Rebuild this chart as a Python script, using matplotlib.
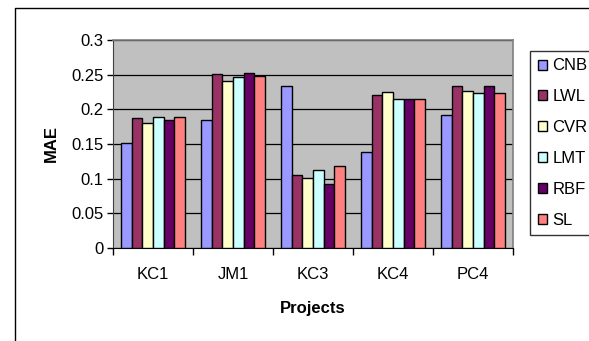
import numpy as np
import matplotlib
matplotlib.use("Agg")
import matplotlib.pyplot as plt
from matplotlib.lines import Line2D

plt.rcParams['font.family'] = ['Liberation Sans', 'DejaVu Sans']

projects = ["KC1", "JM1", "KC3", "KC4", "PC4"]
methods = ["CNB", "LWL", "CVR", "LMT", "RBF", "SL"]
cnb = [0.151, 0.185, 0.234, 0.139, 0.192]
lwl = [0.187, 0.251, 0.106, 0.220, 0.234]
cvr = [0.180, 0.241, 0.101, 0.225, 0.227]
lmt = [0.189, 0.246, 0.113, 0.215, 0.224]
rbf = [0.184, 0.253, 0.092, 0.215, 0.234]
sl = [0.189, 0.248, 0.118, 0.215, 0.224]
series = [cnb, lwl, cvr, lmt, rbf, sl]
colors = ["#9999FF", "#993366", "#FFFFCC", "#CCFFFF", "#660066", "#FF8080"]
yticks = [0, 0.05, 0.1, 0.15, 0.2, 0.25, 0.3]
ytick_labels = ["0", "0.05", "0.1", "0.15", "0.2", "0.25", "0.3"]

W, H = 589, 341
FS = 12
fig = plt.figure(figsize=(W / 100, H / 100), dpi=100)

# outer chart frame (left and top edges visible)
fig.add_artist(Line2D([15 / W, 15 / W, 1.0], [0.0, 1 - 8 / H, 1 - 8 / H],
                      transform=fig.transFigure, color="black", lw=1.0))

left, right, top, bottom = 113, 513, 40, 248
ax = fig.add_axes([left / W, 1 - bottom / H, (right - left) / W, (bottom - top) / H])
ax.set_facecolor("#C0C0C0")

n = len(methods)
group = 0.8
bw = group / n
x = np.arange(len(projects))
for i, (vals, c, name) in enumerate(zip(series, colors, methods)):
    ax.bar(x - group / 2 + bw * (i + 0.5), vals, width=bw, color=c,
           edgecolor="black", linewidth=1.0, label=name, zorder=3)

ax.set_xlim(-0.5, len(projects) - 0.5)
ax.set_ylim(0, 0.3)
ax.set_yticks(yticks)
ax.set_yticklabels(ytick_labels)
ax.yaxis.grid(True, color="black", linewidth=0.9, zorder=1)
ax.set_axisbelow(True)

# category ticks sit at the group boundaries, labels at the centres
ax.set_xticks(np.arange(len(projects) + 1) - 0.5)
ax.set_xticklabels([])
ax.set_xticks(x, minor=True)
ax.set_xticklabels(projects, minor=True)
ax.tick_params(axis="x", which="major", direction="out", length=5, width=1)
ax.tick_params(axis="x", which="minor", length=0, pad=14, labelsize=FS)
ax.tick_params(axis="y", direction="out", length=4, width=1, labelsize=FS, pad=3)

for s in ["top", "right"]:
    ax.spines[s].set_color("#808080")
    ax.spines[s].set_linewidth(1.2)
ax.spines["left"].set_color("#404040")
ax.spines["bottom"].set_color("black")

ax.set_ylabel("MAE", fontsize=FS, fontweight="bold", labelpad=9)
ax.set_xlabel("Projects", fontsize=FS, fontweight="bold", labelpad=13)

leg = fig.legend(loc="upper left", bbox_to_anchor=(530 / W, 1 - 51 / H),
                 frameon=True, fancybox=False, edgecolor="black",
                 fontsize=FS, handlelength=0.55, handleheight=0.55,
                 handletextpad=0.35, labelspacing=0.95, borderpad=0.45,
                 borderaxespad=0)
leg.get_frame().set_linewidth(1.0)

fig.savefig("out.png", dpi=100)
